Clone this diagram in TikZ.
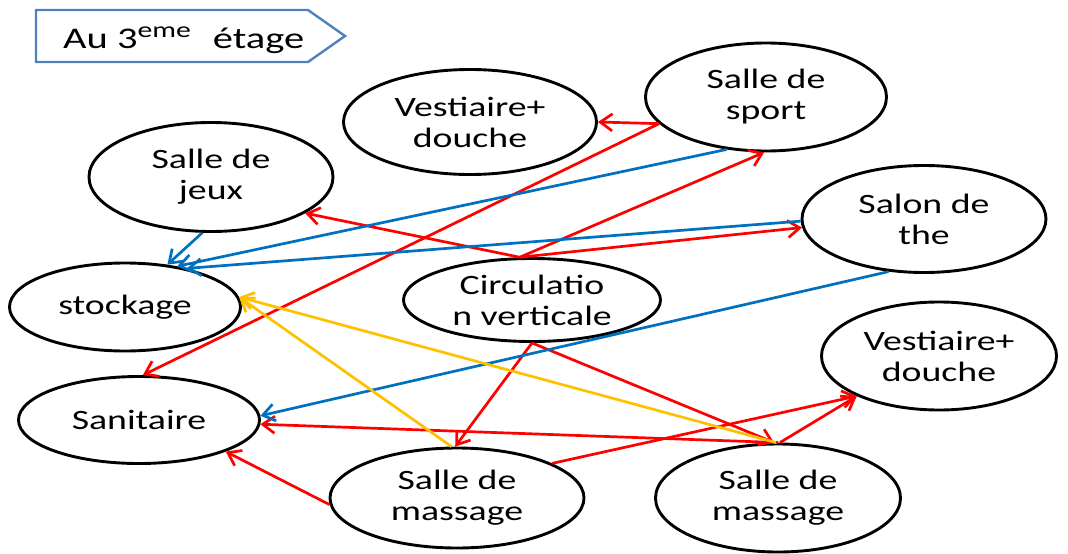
\documentclass[tikz,border=0pt]{standalone}
\usepackage{fontspec}
\setmainfont{Carlito}[FakeStretch=1.35]
\usepackage{tikz}
\usetikzlibrary{shapes.geometric,arrows.meta}
\definecolor{lienrouge}{HTML}{FF0000}
\definecolor{lienbleu}{HTML}{0070C0}
\definecolor{lienjaune}{HTML}{FFC000}
\definecolor{cadre}{HTML}{4F81BD}

\begin{document}
\begin{tikzpicture}[x=1pt,y=-1pt,font=\fontsize{28}{31}\selectfont,
piece/.style n args={2}{ellipse,draw,line width=2.9pt,minimum width=#1,minimum height=#2,inner sep=0pt,align=center},
lien/.style={line width=2.7pt,-{Straight Barb[length=12pt,width=17pt]},#1}]
\useasboundingbox (0,0) rectangle (1068,554);
\draw[cadre,line width=2.4pt] (36,10) -- (308,10) -- (345,36) -- (308,62) -- (36,62) -- cycle;
\node[anchor=base west,inner sep=0pt,font=\fontsize{30}{31}\selectfont] (titre) at (63,48) {Au 3{\fontsize{22}{22}\selectfont\raisebox{11pt}{eme}}\hspace{22pt}étage};
\node[piece={253pt}{105pt}] (vestA) at (470,122) {Vestiaire+\\douche};
\node[piece={241pt}{108pt}] (sport) at (766,97) {Salle de\\sport};
\node[piece={244pt}{109pt}] (jeux) at (211,177) {Salle de\\jeux};
\node[piece={244pt}{107pt}] (salon) at (924,219) {Salon de\\the};
\node[piece={231pt}{88pt}] (stock) at (125,307) {stockage};
\node[piece={241pt}{87pt}] (sanit) at (139,420) {Sanitaire};
\node[piece={257pt}{83pt}] (circ) at (532,300) {Circulatio\\n verticale};
\node[piece={235pt}{108pt}] (vestB) at (939,356) {Vestiaire+\\douche};
\node[piece={254pt}{100pt}] (massA) at (457,498) {Salle de\\massage};
\node[piece={245pt}{108pt}] (massB) at (778,498) {Salle de\\massage};
\foreach \a/\p/\b/\q/\c in %
{sport/194/vestA/0/lienrouge, sport/194/sanit/85/lienrouge,
circ/106/sport/268/lienrouge, circ/106/jeux/339/lienrouge,
circ/106/salon/184/lienrouge, circ/270/massA/92/lienrouge,
circ/270/massB/94/lienrouge, massB/90/sanit/358/lienrouge,
massB/88/vestB/206/lienrouge, massA/20/vestB/206/lienrouge,
massA/183/sanit/340/lienrouge, jeux/261/stock/45/lienbleu,
sport/233/stock/38/lienbleu, salon/181/stock/32/lienbleu,
salon/236/sanit/2/lienbleu, massA/96/stock/5/lienjaune,
massB/92/stock/5/lienjaune} {
   \draw[lien=\c] (\a.\p) -- (\b.\q);
}
\end{tikzpicture}
\end{document}
